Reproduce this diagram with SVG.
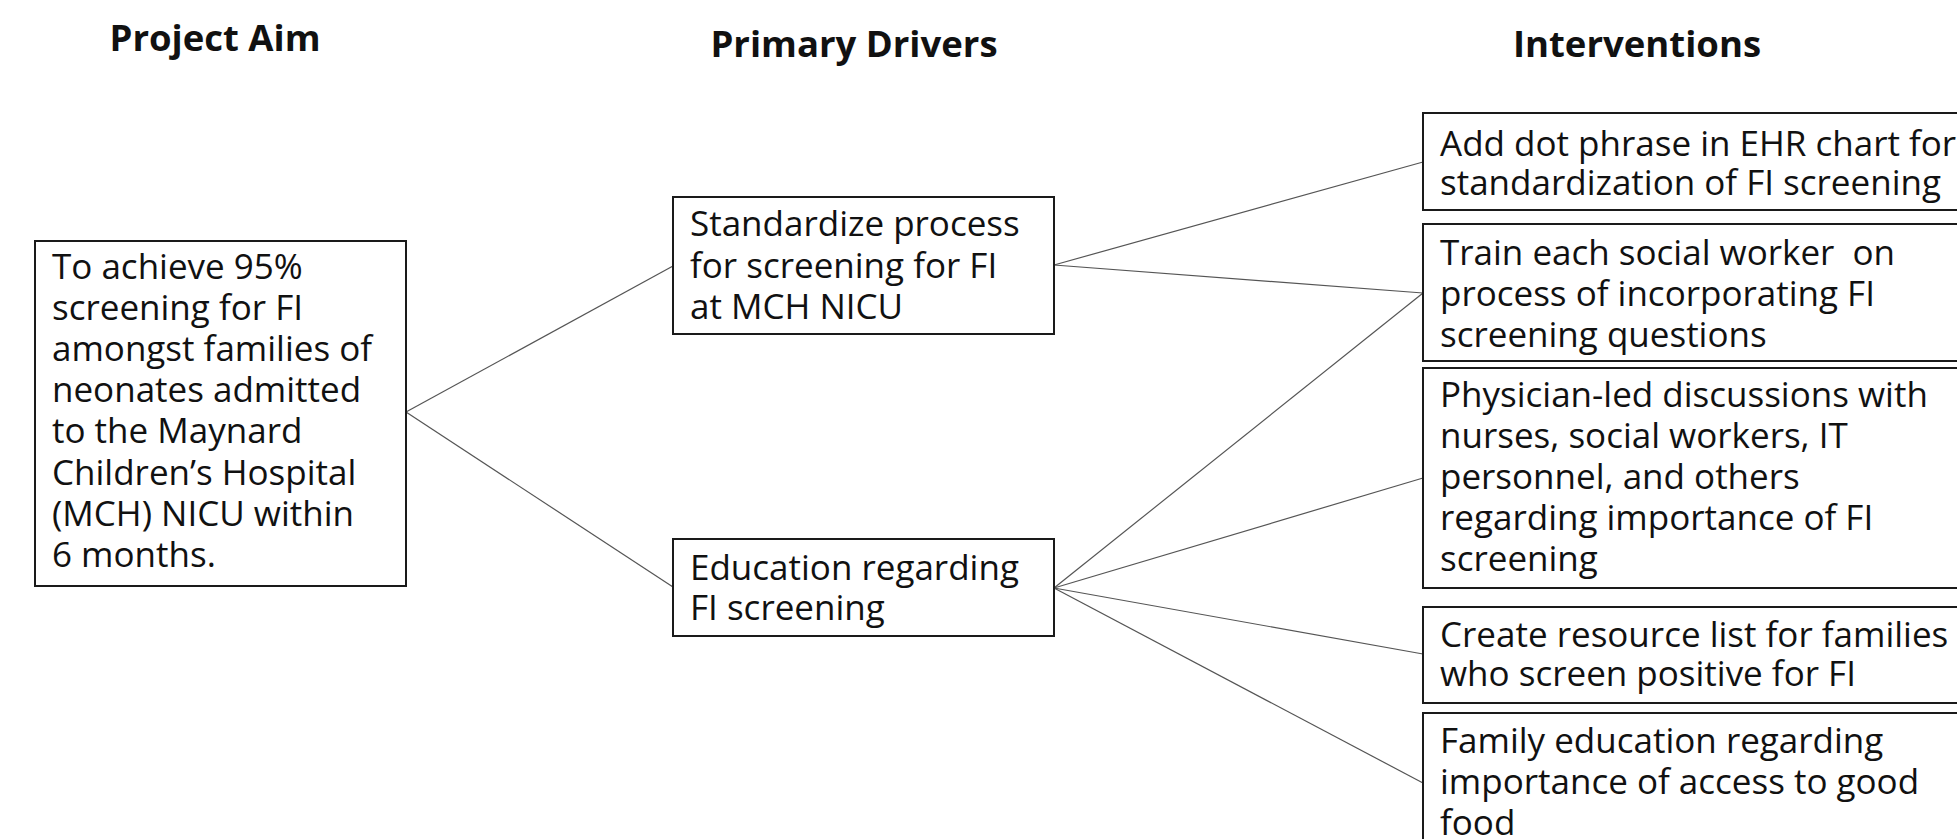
<svg xmlns="http://www.w3.org/2000/svg" width="1957" height="839" viewBox="0 0 1957 839">
  <style>
    .head { font-family: "Open Sans", "Noto Sans", sans-serif; font-weight: 700; font-size: 36.5px; fill: #111; text-anchor: middle; }
    .txt { font-family: "Open Sans", "Noto Sans", sans-serif; font-size: 35px; fill: #111; }
    .box { fill: #fff; stroke: #1a1a1a; stroke-width: 2; }
    .link { stroke: #555; stroke-width: 1.2; fill: none; }
  </style>
  <rect width="1957" height="839" fill="#fff"/>

  <!-- column headings -->
  <g id="headings">
    <text class="head" x="215" y="51">Project Aim</text>
    <text class="head" x="854" y="57">Primary Drivers</text>
    <text class="head" x="1637" y="57">Interventions</text>
  </g>

  <!-- connectors -->
  <g id="connectors">
    <line class="link" x1="406" y1="412" x2="673" y2="266"/>
    <line class="link" x1="406" y1="412" x2="673" y2="587"/>
    <line class="link" x1="1054" y1="265" x2="1423" y2="162"/>
    <line class="link" x1="1054" y1="265" x2="1423" y2="293"/>
    <line class="link" x1="1054" y1="588" x2="1423" y2="293"/>
    <line class="link" x1="1054" y1="588" x2="1423" y2="478"/>
    <line class="link" x1="1054" y1="588" x2="1423" y2="654"/>
    <line class="link" x1="1054" y1="588" x2="1423" y2="783"/>
  </g>

  <!-- aim -->
  <g id="aim">
    <rect class="box" x="35" y="241" width="371" height="345"/>
    <text class="txt">
      <tspan x="52" y="279">To achieve 95%</tspan>
      <tspan x="52" y="320">screening for FI</tspan>
      <tspan x="52" y="361">amongst families of</tspan>
      <tspan x="52" y="402">neonates admitted</tspan>
      <tspan x="52" y="443">to the Maynard</tspan>
      <tspan x="52" y="485">Children’s Hospital</tspan>
      <tspan x="52" y="526">(MCH) NICU within</tspan>
      <tspan x="52" y="567">6 months.</tspan>
    </text>
  </g>

  <!-- primary drivers -->
  <g id="driver-standardize">
    <rect class="box" x="673" y="197" width="381" height="137"/>
    <text class="txt">
      <tspan x="690" y="236">Standardize process</tspan>
      <tspan x="690" y="278">for screening for FI</tspan>
      <tspan x="690" y="319">at MCH NICU</tspan>
    </text>
  </g>
  <g id="driver-education">
    <rect class="box" x="673" y="539" width="381" height="97"/>
    <text class="txt">
      <tspan x="690" y="580">Education regarding</tspan>
      <tspan x="690" y="620">FI screening</tspan>
    </text>
  </g>

  <!-- interventions (boxes run off the right edge) -->
  <g id="int-dot-phrase">
    <rect class="box" x="1423" y="113" width="560" height="97"/>
    <text class="txt">
      <tspan x="1440" y="156">Add dot phrase in EHR chart for</tspan>
      <tspan x="1440" y="195">standardization of FI screening</tspan>
    </text>
  </g>
  <g id="int-train">
    <rect class="box" x="1423" y="224" width="560" height="137"/>
    <text class="txt" xml:space="preserve"><tspan x="1440" y="265">Train each social worker  on</tspan><tspan x="1440" y="306">process of incorporating FI</tspan><tspan x="1440" y="347">screening questions</tspan></text>
  </g>
  <g id="int-discussions">
    <rect class="box" x="1423" y="368" width="560" height="220"/>
    <text class="txt">
      <tspan x="1440" y="407">Physician-led discussions with</tspan>
      <tspan x="1440" y="448">nurses, social workers, IT</tspan>
      <tspan x="1440" y="489">personnel, and others</tspan>
      <tspan x="1440" y="530">regarding importance of FI</tspan>
      <tspan x="1440" y="571">screening</tspan>
    </text>
  </g>
  <g id="int-resource-list">
    <rect class="box" x="1423" y="607" width="560" height="96"/>
    <text class="txt">
      <tspan x="1440" y="647">Create resource list for families</tspan>
      <tspan x="1440" y="686">who screen positive for FI</tspan>
    </text>
  </g>
  <g id="int-family-education">
    <rect class="box" x="1423" y="713" width="560" height="160"/>
    <text class="txt">
      <tspan x="1440" y="753">Family education regarding</tspan>
      <tspan x="1440" y="794">importance of access to good</tspan>
      <tspan x="1440" y="835">food</tspan>
    </text>
  </g>
</svg>
